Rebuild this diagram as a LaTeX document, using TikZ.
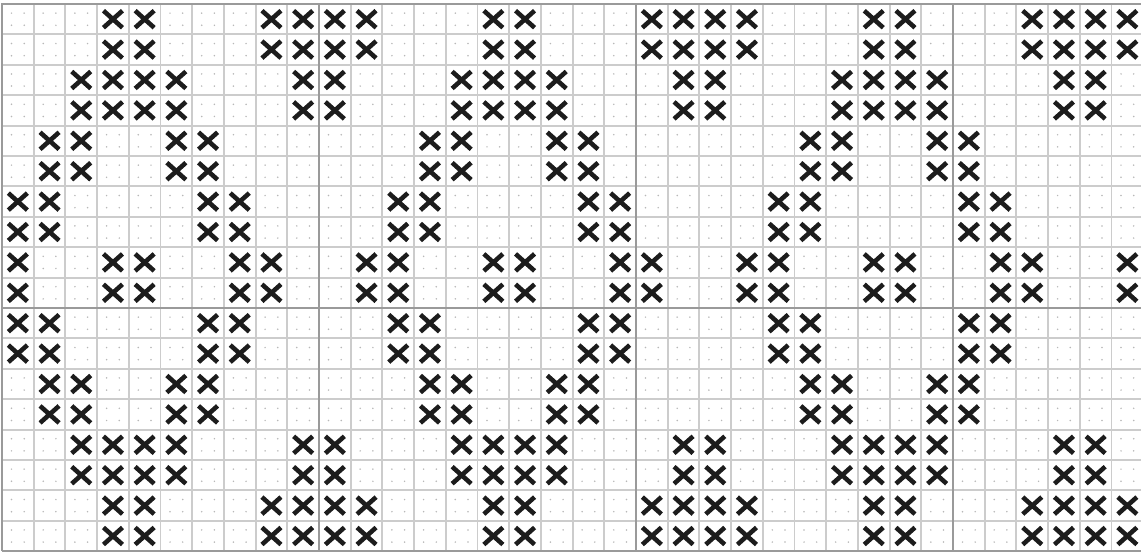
\documentclass[tikz,border=0pt]{standalone}
\usepackage{tikz}
\usetikzlibrary{calc}
\definecolor{fabric}{HTML}{CCCCCC}
\definecolor{tenline}{HTML}{9A9A9A}
\definecolor{hole}{HTML}{B8B8B8}
\definecolor{thread}{HTML}{1C1C1C}

\begin{document}
\begin{tikzpicture}[
  x=0.5mm, y=-0.5mm,
  minor/.style={draw=fabric, line width=2.6pt},
  major/.style={draw=tenline, line width=3pt},
  stitch/.style={draw=thread, line width=6.5pt},
  xstitch/.pic={\draw[stitch] (-9.5,-8.5) -- (9.5,8.5) (-9.5,8.5) -- (9.5,-8.5);}
]
  \def\cw{31.7}
  \def\ch{30.4}
  \def\xo{2}
  \def\yo{4}
  \useasboundingbox (0,0) rectangle (1141,554);
  \fill[white] (0,0) rectangle (1141,554);

  % Fabric holes
  \foreach \i in {0,...,35}
    \foreach \j in {0,...,17}
      \foreach \u/\v in {0.3/0.3, 0.7/0.3, 0.3/0.7, 0.7/0.7}
        \fill[hole] ({\xo+\cw*(\i+\u)},{\yo+\ch*(\j+\v)}) circle[radius=1.2pt];

  % Grid
  \foreach \i in {0,...,36}
    \draw[minor] ({\xo+\cw*\i},\yo) -- ({\xo+\cw*\i},{\yo+18*\ch});
  \foreach \j in {0,...,18}
    \draw[minor] (\xo,{\yo+\ch*\j}) -- ({\xo+36*\cw},{\yo+\ch*\j});

  % Every tenth line
  \foreach \i in {10,20,30}
    \draw[major] ({\xo+\cw*\i},\yo) -- ({\xo+\cw*\i},{\yo+18*\ch});
  \draw[major] (\xo,{\yo+10*\ch}) -- ({\xo+36*\cw},{\yo+10*\ch});
  \draw[major] (\xo,{\yo+18*\ch}) -- (\xo,\yo) -- ({\xo+36*\cw},\yo);
  \draw[major] (\xo,{\yo+18*\ch}) -- ({\xo+36*\cw},{\yo+18*\ch});

  % Stitches: bands of two rows, repeated every 12 columns
  \foreach \b/\cols in {0/{3,4,8,9,10,11}, 1/{2,3,4,5,9,10}, 2/{1,2,5,6},
                        3/{0,1,6,7}, 4/{0,3,4,7,8,11}, 5/{0,1,6,7},
                        6/{1,2,5,6}, 7/{2,3,4,5,9,10}, 8/{3,4,8,9,10,11}}
    \foreach \p in {0,12,24}
      \foreach \c in \cols
        \foreach \r in {0,1}
          \pic at ({\xo+\cw*(\p+\c+0.5)},{\yo+\ch*(2*\b+\r+0.5)}) {xstitch};
\end{tikzpicture}
\end{document}
